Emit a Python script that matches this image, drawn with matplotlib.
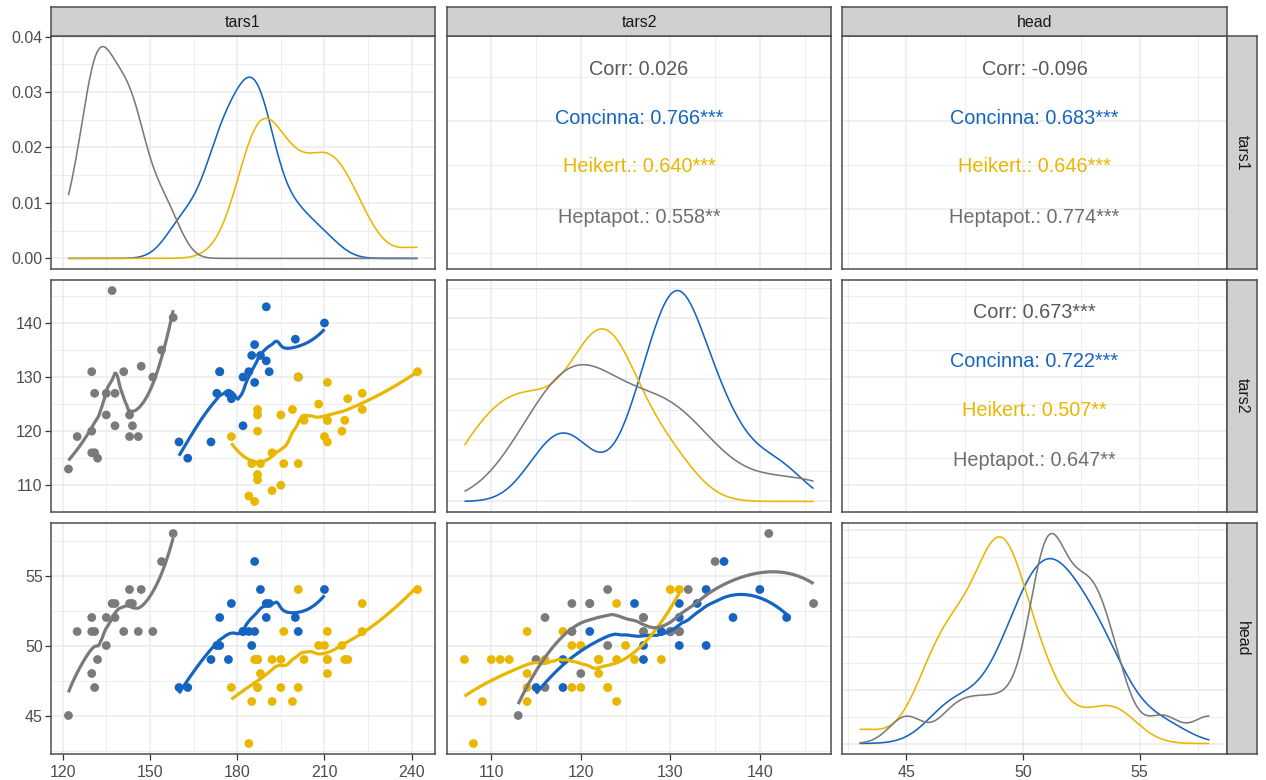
import numpy as np
import matplotlib
matplotlib.use("Agg")
import matplotlib.pyplot as plt
from matplotlib.ticker import MaxNLocator

plt.rcParams['font.family'] = ['Liberation Sans', 'DejaVu Sans']

# ---------------- data (flea beetles) ----------------
species = ["Concinna", "Heikert.", "Heptapot."]
colors = ["#1565C0", "#E9B600", "#7A7A7A"]
variables = ["tars1", "tars2", "head"]

concinna_tars1 = [191, 185, 200, 173, 171, 160, 188, 186, 174, 163, 190, 174, 201, 190, 182, 184, 177, 178, 210, 182, 186]
concinna_tars2 = [131, 134, 137, 127, 118, 118, 134, 129, 131, 115, 143, 131, 130, 133, 130, 131, 127, 126, 140, 121, 136]
concinna_head = [53, 50, 52, 50, 49, 47, 54, 51, 52, 47, 52, 50, 51, 53, 51, 51, 49, 53, 54, 51, 56]

heikert_tars1 = [186, 211, 201, 242, 184, 211, 217, 223, 208, 199, 211, 218, 203, 192, 195, 211, 187, 192, 223, 188,
                 216, 185, 178, 187, 187, 201, 187, 210, 196, 195, 187]
heikert_tars2 = [107, 122, 114, 131, 108, 118, 122, 127, 125, 124, 129, 126, 122, 116, 123, 122, 123, 109, 124, 114,
                 120, 114, 119, 111, 112, 130, 120, 119, 114, 110, 124]
heikert_head = [49, 49, 47, 54, 43, 51, 49, 51, 50, 46, 49, 49, 49, 49, 47, 48, 47, 46, 53, 48,
                50, 46, 47, 49, 49, 54, 47, 50, 51, 49, 49]

heptapot_tars1 = [122, 125, 130, 130, 130, 131, 131, 132, 135, 135, 137, 138, 138, 141, 143, 143, 144, 146, 147, 151, 154, 158]
heptapot_tars2 = [113, 119, 120, 116, 131, 116, 127, 115, 123, 127, 146, 127, 121, 131, 123, 119, 121, 119, 132, 130, 135, 141]
heptapot_head = [45, 51, 48, 52, 51, 47, 51, 49, 50, 52, 53, 52, 53, 51, 54, 53, 53, 51, 54, 51, 56, 58]

corr_labels = {
    (0, 1): ["Corr: 0.026", "Concinna: 0.766***", "Heikert.: 0.640***", "Heptapot.: 0.558**"],
    (0, 2): ["Corr: -0.096", "Concinna: 0.683***", "Heikert.: 0.646***", "Heptapot.: 0.774***"],
    (1, 2): ["Corr: 0.673***", "Concinna: 0.722***", "Heikert.: 0.507**", "Heptapot.: 0.647**"],
}
corr_colors = ["#595959", colors[0], colors[1], "#6E6E6E"]

# tick breaks
major_breaks = {"tars1": [120, 150, 180, 210, 240], "tars2": [110, 120, 130, 140], "head": [45, 50, 55]}
minor_breaks = {"tars1": [135, 165, 195, 225], "tars2": [115, 125, 135, 145], "head": [42.5, 47.5, 52.5, 57.5]}
row1_text_major = [150, 200]
row1_text_minor = [125, 175, 225]

data = {
    "tars1": [np.array(concinna_tars1, float), np.array(heikert_tars1, float), np.array(heptapot_tars1, float)],
    "tars2": [np.array(concinna_tars2, float), np.array(heikert_tars2, float), np.array(heptapot_tars2, float)],
    "head": [np.array(concinna_head, float), np.array(heikert_head, float), np.array(heptapot_head, float)],
}


def limits(v):
    allv = np.concatenate(data[v])
    lo, hi = allv.min(), allv.max()
    r = hi - lo
    return lo - 0.05 * r, hi + 0.05 * r


def kde(x, grid):
    n = len(x)
    sd = np.std(x, ddof=1)
    q75, q25 = np.percentile(x, [75, 25])
    lo = min(sd, (q75 - q25) / 1.34)
    bw = 0.9 * lo * n ** -0.2
    z = (grid[:, None] - x[None, :]) / bw
    return np.exp(-0.5 * z ** 2).sum(1) / (n * bw * np.sqrt(2 * np.pi))


def loess(x, y, xs, span=0.75):
    n = len(x)
    q = int(np.floor(n * span))
    out = np.empty_like(xs)
    for i, x0 in enumerate(xs):
        d = np.abs(x - x0)
        h = np.sort(d)[q - 1] * 1.0000001
        u = np.clip(d / h, 0, 1)
        w = (1 - u ** 3) ** 3
        X = np.column_stack([np.ones(n), x - x0, (x - x0) ** 2])
        Wsq = np.sqrt(w)
        beta, *_ = np.linalg.lstsq(X * Wsq[:, None], y * Wsq, rcond=None)
        out[i] = beta[0]
    return out


# ---------------- layout ----------------
W, H = 1266, 780
fig = plt.figure(figsize=(W / 100, H / 100), dpi=100)
col_px = [(51, 435), (447, 831), (842, 1227)]
row_px = [(36, 269), (280, 512), (523, 754)]
STRIP_TOP = (7, 36)
STRIP_RIGHT = (1227, 1257)
GRID = "#EBEBEB"
BORDER = "#4D4D4D"
STRIP_FILL = "#D0D0D0"
TICK_SIZE = 11.5


def add_ax(x0, x1, y0, y1):
    return fig.add_axes([x0 / W, 1 - y1 / H, (x1 - x0) / W, (y1 - y0) / H])


def style(ax, xmaj, xmin, ymaj, ymin, left, bottom):
    ax.set_xticks(xmaj)
    ax.set_xticks(xmin, minor=True)
    ax.set_yticks(ymaj)
    ax.set_yticks(ymin, minor=True)
    ax.grid(which="major", color=GRID, lw=1.1, zorder=0)
    ax.grid(which="minor", color=GRID, lw=0.6, zorder=0)
    ax.set_axisbelow(True)
    ax.tick_params(which="minor", length=0)
    ax.tick_params(which="major", length=4, width=0.9, color="#333333", labelsize=TICK_SIZE,
                   labelcolor="#4D4D4D", pad=2,
                   left=left, labelleft=left, bottom=bottom, labelbottom=bottom)
    ax.tick_params(axis="x", which="major", pad=4)
    for s in ax.spines.values():
        s.set_color(BORDER)
        s.set_linewidth(1.1)


def nice_breaks(lo, hi):
    loc = MaxNLocator(nbins=5, steps=[1, 2, 2.5, 5, 10])
    t = loc.tick_values(lo, hi)
    step = t[1] - t[0]
    maj = [v for v in t if lo <= v <= hi]
    mn = [v + step / 2 for v in t if lo <= v + step / 2 <= hi]
    return maj, mn


for i, rv in enumerate(variables):
    for j, cv in enumerate(variables):
        x0, x1 = col_px[j]
        y0, y1 = row_px[i]
        ax = add_ax(x0, x1, y0, y1)
        xl = limits(cv)
        ax.set_xlim(*xl)
        left = (j == 0)
        bottom = (i == 2)
        if i == j:
            grid = np.linspace(np.concatenate(data[cv]).min(), np.concatenate(data[cv]).max(), 512)
            dens = [kde(x, grid) for x in data[cv]]
            M = max(d.max() for d in dens)
            ylo, yhi = -0.05 * M, 1.05 * M
            ax.set_ylim(ylo, yhi)
            for d, c in zip(dens, colors):
                ax.plot(grid, d, color=c, lw=1.15, zorder=3, solid_capstyle="butt")
            ymaj, ymin = nice_breaks(ylo, yhi)
            style(ax, major_breaks[cv], minor_breaks[cv], ymaj, ymin, left, bottom)
            if left:
                ax.set_yticklabels([f"{v:.2f}" for v in ymaj])
        elif i > j:
            yl = limits(rv)
            ax.set_ylim(*yl)
            for k in range(3):
                ax.scatter(data[cv][k], data[rv][k], s=40, color=colors[k], edgecolors="none", zorder=3)
            for k in range(3):
                xs = np.linspace(data[cv][k].min(), data[cv][k].max(), 80)
                ys = loess(data[cv][k], data[rv][k], xs)
                ax.plot(xs, ys, color=colors[k], lw=2.3, zorder=4, solid_capstyle="butt")
            style(ax, major_breaks[cv], minor_breaks[cv], major_breaks[rv], minor_breaks[rv], left, bottom)
        else:
            if i == 0:
                yl = limits("tars1")
                ax.set_ylim(*yl)
                style(ax, major_breaks[cv], minor_breaks[cv], row1_text_major, row1_text_minor, False, False)
            else:
                yl = limits(rv)
                ax.set_ylim(*yl)
                style(ax, major_breaks[cv], minor_breaks[cv], major_breaks[rv], minor_breaks[rv], False, False)
            labels = corr_labels[(i, j)]
            ypos = [0.858, 0.648, 0.438, 0.223]
            for lab, yy, c in zip(labels, ypos, corr_colors):
                ax.text(0.5, yy, lab, transform=ax.transAxes, ha="center", va="center",
                        fontsize=14.3, color=c)

# top strips
for j, v in enumerate(variables):
    x0, x1 = col_px[j]
    sax = add_ax(x0, x1, STRIP_TOP[0], STRIP_TOP[1])
    sax.set_facecolor(STRIP_FILL)
    sax.set_xticks([]); sax.set_yticks([])
    for s in sax.spines.values():
        s.set_color(BORDER); s.set_linewidth(1.1)
    sax.text(0.5, 0.48, v, transform=sax.transAxes, ha="center", va="center", fontsize=11.5, color="#1A1A1A")

# right strips
for i, v in enumerate(variables):
    y0, y1 = row_px[i]
    sax = add_ax(STRIP_RIGHT[0], STRIP_RIGHT[1], y0, y1)
    sax.set_facecolor(STRIP_FILL)
    sax.set_xticks([]); sax.set_yticks([])
    for s in sax.spines.values():
        s.set_color(BORDER); s.set_linewidth(1.1)
    sax.text(0.5, 0.5, v, transform=sax.transAxes, ha="center", va="center", rotation=-90,
             fontsize=11.5, color="#1A1A1A")

fig.savefig("out.png", dpi=100, facecolor="white")
